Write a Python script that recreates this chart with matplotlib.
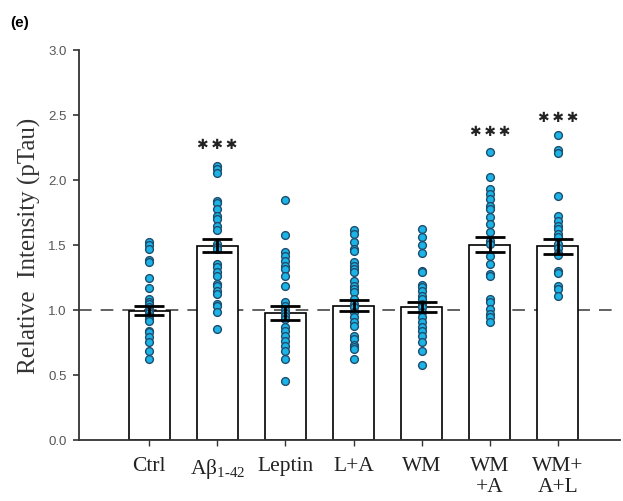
import matplotlib
matplotlib.use("Agg")
import matplotlib.pyplot as plt
import numpy as np

plt.rcParams["mathtext.fontset"] = "custom"
plt.rcParams["mathtext.rm"] = "Liberation Serif"
plt.rcParams["mathtext.it"] = "Liberation Serif:italic"

categories = ["Ctrl", r"A$\mathrm{\beta}_{\mathrm{1\text{-}42}}$", "Leptin", "L+A", "WM", "WM\n+A", "WM+\nA+L"]
means = [0.99, 1.49, 0.975, 1.03, 1.02, 1.50, 1.485]
sems = [0.035, 0.05, 0.053, 0.041, 0.039, 0.055, 0.055]

pts_ctrl = [1.522, 1.496, 1.465, 1.383, 1.363, 1.240, 1.165, 1.081, 1.060, 1.042, 1.017, 0.991,
            0.973, 0.952, 0.927, 0.914, 0.837, 0.825, 0.786, 0.748, 0.683, 0.619]
pts_abeta = [2.106, 2.081, 2.050, 1.837, 1.819, 1.773, 1.722, 1.696, 1.640, 1.614, 1.504, 1.478,
             1.465, 1.350, 1.324, 1.286, 1.255, 1.196, 1.183, 1.145, 1.119, 1.042, 1.029, 0.978, 0.850]
pts_leptin = [1.845, 1.573, 1.445, 1.414, 1.376, 1.337, 1.312, 1.255, 1.183, 1.055, 1.029, 0.999,
              0.973, 0.952, 0.927, 0.863, 0.837, 0.798, 0.760, 0.722, 0.683, 0.619, 0.452]
pts_la = [1.614, 1.581, 1.522, 1.465, 1.453, 1.363, 1.337, 1.312, 1.286, 1.222, 1.183, 1.158, 1.132,
          1.081, 1.042, 1.017, 0.978, 0.940, 0.901, 0.875, 0.798, 0.773, 0.727, 0.709, 0.696, 0.619]
pts_wm = [1.619, 1.555, 1.496, 1.435, 1.299, 1.286, 1.188, 1.171, 1.145, 1.106, 1.081, 1.042, 1.017,
          0.978, 0.940, 0.901, 0.863, 0.837, 0.794, 0.748, 0.683, 0.573]
pts_wma = [2.209, 2.017, 1.927, 1.888, 1.850, 1.799, 1.773, 1.709, 1.658, 1.594, 1.529, 1.504, 1.414,
           1.350, 1.273, 1.260, 1.081, 1.055, 1.004, 0.965, 0.940, 0.906]
pts_wmal = [2.342, 2.229, 2.204, 1.875, 1.717, 1.683, 1.645, 1.619, 1.581, 1.555, 1.504, 1.471, 1.435,
            1.419, 1.299, 1.281, 1.183, 1.158, 1.106]
points = [pts_ctrl, pts_abeta, pts_leptin, pts_la, pts_wm, pts_wma, pts_wmal]

star_labels = ["", "***", "", "", "", "***", "***"]
star_y = [None, 2.27, None, None, None, 2.37, 2.48]

fig = plt.figure(figsize=(6.23, 5.02), dpi=100)
ax = fig.add_axes([0.1268, 0.1225, 0.8682, 0.7769])

x = np.arange(len(categories))
ax.bar(x, means, width=0.6, color="white", edgecolor="black", linewidth=1.2, zorder=2)
ax.axhline(1.0, color="#555555", linestyle=(0, (7, 5)), linewidth=1.3, zorder=1)

for xi, vals in zip(x, points):
    ax.plot(np.full(len(vals), xi), vals, linestyle="none", marker="o", markersize=5.6,
            markerfacecolor="#1cb4e6", markeredgecolor="#1d4d6e", markeredgewidth=1.0, zorder=3)

ax.errorbar(x, means, yerr=sems, fmt="none", ecolor="black", elinewidth=2.0,
            capsize=11, capthick=2.0, zorder=4)

for xi, s, yv in zip(x, star_labels, star_y):
    if s:
        ax.text(xi, yv, "\u2731\u2009\u2731\u2009\u2731", ha="center", va="center",
                fontsize=10, color="#222222", family="DejaVu Sans")

ax.set_xlim(-1.03, 6.91)
ax.set_ylim(0, 3.0)
ax.set_yticks([0.0, 0.5, 1.0, 1.5, 2.0, 2.5, 3.0])
ax.set_yticklabels(["0.0", "0.5", "1.0", "1.5", "2.0", "2.5", "3.0"],
                   family="Liberation Sans", fontsize=9.5, color="#555555")
ax.set_xticks(x)
ax.set_xticklabels(categories, family="Liberation Serif", fontsize=15.5, color="#222222",
                   linespacing=1.15, va="top")
ax.tick_params(axis="y", direction="out", length=4, width=1.2, pad=5, color="#333333")
ax.tick_params(axis="x", direction="out", length=4, width=1.0, pad=8, color="#333333")

for s in ["top", "right"]:
    ax.spines[s].set_visible(False)
for s in ["left", "bottom"]:
    ax.spines[s].set_color("#333333")
    ax.spines[s].set_linewidth(1.3)

ax.set_ylabel("Relative  Intensity (pTau)", family="Liberation Serif", fontsize=18,
              color="#333333", labelpad=5)

fig.text(0.016, 0.955, "(e)", family="Liberation Sans", fontweight="bold", fontsize=11,
         color="black", va="center", ha="left")

fig.savefig("out.png", dpi=100)
